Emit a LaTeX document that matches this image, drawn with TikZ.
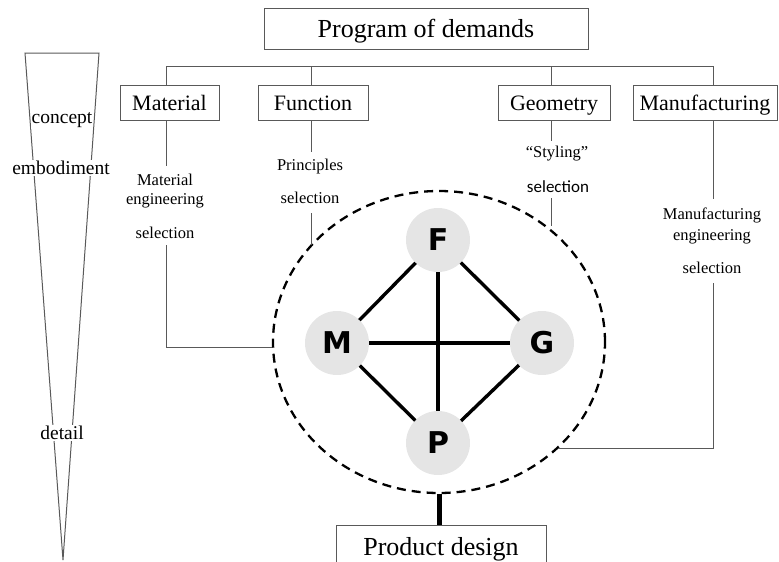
\documentclass[tikz,border=0pt]{standalone}
\usepackage{fontspec}
\setmainfont{Liberation Serif}
\newfontfamily\letterfont{DejaVu Sans}
\newfontfamily\carfont{Carlito}
\usetikzlibrary{shapes.geometric}
\begin{document}
\begin{tikzpicture}[x=1pt,y=-1pt,
  thinline/.style={draw=black!65, line width=1pt},
  box/.style={draw=black!65, line width=1pt, rectangle, inner sep=0pt, outer sep=0pt, text height=15pt, text depth=0pt, font=\fontsize{22}{24}\selectfont},
  bigbox/.style={box, text height=17pt, text depth=0pt, font=\fontsize{26}{28}\selectfont},
  small/.style={inner sep=0pt, font=\fontsize{16.5}{18}\selectfont},
  stage/.style={fill=white, inner sep=1pt, font=\fontsize{19.5}{21}\selectfont},
  ball/.style={circle, fill=black!10, minimum size=64pt, inner sep=0pt, outer sep=0pt, font=\letterfont\bfseries\fontsize{30}{31}\selectfont},
  link/.style={line width=3.4pt, black},
  ringst/.style={ellipse, draw=black, line width=2.3pt, dash pattern=on 9pt off 6pt, minimum width=332pt, minimum height=302pt, inner sep=0pt}
]
\useasboundingbox (0,0) rectangle (779,562);
\clip (0,0) rectangle (779,562);

% funnel
\coordinate (tl) at (25,53);
\coordinate (tr) at (99,53);
\coordinate (tip) at (63,560);
\draw[thinline] (tip) -- (tl) -- (tr) -- (tip);
\node[stage] (concept) at (62,120) {concept};
\node[stage] (embod) at (61,168) {embodiment};
\node[stage] (detail) at (62,433) {detail};

% top boxes
\node[bigbox, minimum width=324pt, minimum height=41pt] (prog) at (426,28.5) {Program of demands};
\node[box, minimum width=99pt, minimum height=35pt] (mat) at (169.5,103) {Material};
\node[box, minimum width=110pt, minimum height=35pt] (fun) at (313,103) {Function};
\node[box, minimum width=112pt, minimum height=35pt] (geo) at (554,103) {Geometry};
\node[box, minimum width=144pt, minimum height=35pt] (man) at (705,103) {Manufacturing};

% bus
\coordinate (b1) at (166,66);
\coordinate (b2) at (311,66);
\coordinate (b3) at (551,66);
\coordinate (b4) at (713,66);
\draw[thinline] (b1) -- (b4);
\draw[thinline] (b1) -- (b1 |- mat.north);
\draw[thinline] (b2) -- (b2 |- fun.north);
\draw[thinline] (b3) -- (b3 |- geo.north);
\draw[thinline] (b4) -- (b4 |- man.north);

% small labels
\node[small] (m1) at (165,180) {Material};
\node[small] (m2) at (165,201) {engineering};
\node[small] (m3) at (165,233) {selection};
\node[small] (f1) at (310,167) {Principles};
\node[small] (f2) at (310,198) {selection};
\node[small] (g1) at (557,154) {``Styling''};
\node[small, font=\carfont\fontsize{17}{18}\selectfont] (g2) at (558,187) {selection};
\node[small] (n1) at (712,215) {Manufacturing};
\node[small] (n2) at (712,237) {engineering};
\node[small] (n3) at (712,268) {selection};

% ring and balls
\node[ringst] (ring) at (439,342) {};
\node[ball] (F) at (438,240) {F};
\node[ball] (M) at (337,343) {M};
\node[ball] (G) at (542,343) {G};
\node[ball] (P) at (438,443) {P};
\draw[link] (F) -- (M);
\draw[link] (F) -- (G);
\draw[link] (M) -- (P);
\draw[link] (G) -- (P);
\draw[link] (F) -- (P);
\draw[link] (M) -- (G);

% connectors from boxes to labels to ring
\coordinate (mA) at (166,121);
\coordinate (mB) at (166,166);
\coordinate (mC) at (166,245);
\draw[thinline] (mA) -- (mB);
\draw[thinline] (mC) |- (ring.182);

\coordinate (fA) at (311,121);
\coordinate (fB) at (311,152);
\coordinate (fC) at (311,213);
\draw[thinline] (fA) -- (fB);
\draw[thinline] (fC) -- (fC |- ring.143);

\coordinate (gA) at (551,121);
\coordinate (gB) at (551,141);
\coordinate (gC) at (551,198);
\draw[thinline] (gA) -- (gB);
\draw[thinline] (gC) -- (gC |- ring.47);

\coordinate (nA) at (713,121);
\coordinate (nB) at (713,199);
\coordinate (nC) at (713,283);
\draw[thinline] (nA) -- (nB);
\draw[thinline] (nC) |- (ring.318);

% product design
\node[bigbox, minimum width=210pt, minimum height=43pt] (prod) at (441,546.5) {Product design};
\draw[line width=5pt] (ring.south) -- (ring.south |- prod.north);
\end{tikzpicture}
\end{document}
